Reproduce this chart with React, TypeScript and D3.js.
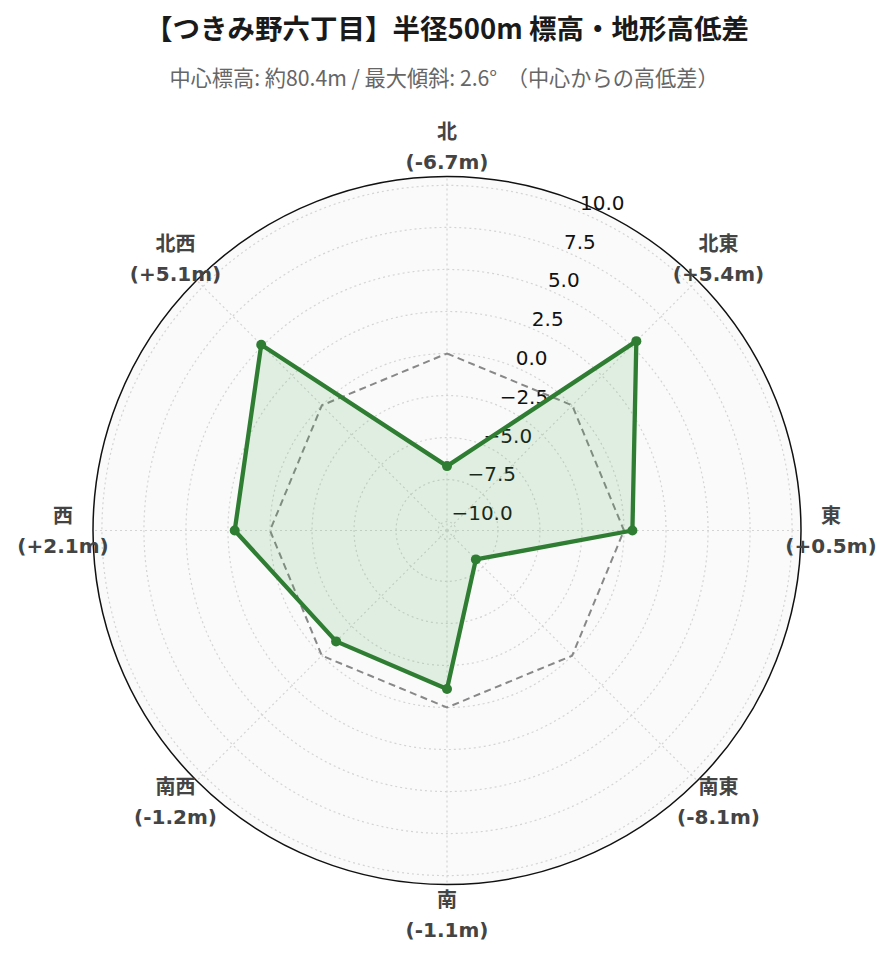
import React from "react";
import * as d3 from "d3";

const directions = ["北", "北東", "東", "南東", "南", "南西", "西", "北西"];
const diffs = [-6.7, 5.4, 0.5, -8.1, -1.1, -1.2, 2.1, 5.1];
const referenceValues = [0, 0, 0, 0, 0, 0, 0, 0];
const radialTicks = [-10, -7.5, -5, -2.5, 0, 2.5, 5, 7.5, 10];
const radialRange = [-10.53, 10.53];
const titleText = "【つきみ野六丁目】半径500m 標高・地形高低差";
const subtitleText = "中心標高: 約80.4m / 最大傾斜: 2.6°  （中心からの高低差）";

const W = 893;
const H = 962;
const cx = 447;
const cy = 530.5;
const R = 354;
const tickAngleDeg = 22.5; // clockwise from north

export default function App() {
  const r = d3.scaleLinear().domain(radialRange).range([0, R]);
  const angle = d3
    .scalePoint<string>()
    .domain(directions)
    .range([0, 2 * Math.PI * (1 - 1 / directions.length)]);

  const pt = (a: number, rad: number): [number, number] => [
    cx + rad * Math.sin(a),
    cy - rad * Math.cos(a),
  ];

  const radial = d3
    .lineRadial<number>()
    .angle((_, i) => angle(directions[i]) as number)
    .radius((d) => r(d))
    .curve(d3.curveLinearClosed);

  const dataPath = radial(diffs) || "";
  const refPath = radial(referenceValues) || "";

  const fmtTick = (v: number) => {
    const s = Math.abs(v).toFixed(1);
    return v < 0 ? "\u2212" + s : s;
  };
  const fmtDiff = (v: number) => (v >= 0 ? "+" : "-") + Math.abs(v).toFixed(1) + "m";

  const ta = (tickAngleDeg * Math.PI) / 180;
  const labelFont = "'DejaVu Sans', 'Noto Sans CJK JP', sans-serif";

  return (
    <svg
      width={W}
      height={H}
      style={{ position: "absolute", left: 0, top: 0, background: "#fff" }}
    >
      <text
        x={447}
        y={27}
        textAnchor="middle"
        dominantBaseline="central"
        fontFamily="'Noto Sans CJK JP', sans-serif"
        fontWeight="bold"
        fontSize={27.5}
        fill="#1a1a1a"
      >
        {titleText}
      </text>
      <text
        x={444}
        y={76}
        textAnchor="middle"
        dominantBaseline="central"
        fontFamily="'Noto Sans CJK JP', sans-serif"
        fontSize={21.2}
        fill="#666"
        style={{ whiteSpace: "pre" }}
      >
        {subtitleText}
      </text>

      <circle cx={cx} cy={cy} r={R} fill="#fafafa" />

      {radialTicks.map((t) => (
        <circle
          key={"g" + t}
          cx={cx}
          cy={cy}
          r={r(t)}
          fill="none"
          stroke="#d4d4d4"
          strokeWidth={1.2}
          strokeDasharray="2,3"
        />
      ))}
      {directions.map((d) => {
        const [x2, y2] = pt(angle(d) as number, R);
        return (
          <line
            key={"a" + d}
            x1={cx}
            y1={cy}
            x2={x2}
            y2={y2}
            stroke="#d4d4d4"
            strokeWidth={1.2}
            strokeDasharray="2,3"
          />
        );
      })}

      {radialTicks.map((t) => {
        const [x, y] = pt(ta, r(t));
        return (
          <text
            key={"t" + t}
            x={x + 1}
            y={y - 9}
            textAnchor="start"
            dominantBaseline="central"
            fontFamily="'DejaVu Sans', sans-serif"
            fontSize={20}
            fill="#111"
          >
            {fmtTick(t)}
          </text>
        );
      })}

      <path
        d={refPath}
        transform={`translate(${cx},${cy})`}
        fill="none"
        stroke="#888"
        strokeWidth={2}
        strokeDasharray="7,4.5"
      />

      <path
        d={dataPath}
        transform={`translate(${cx},${cy})`}
        fill="rgba(76,175,80,0.15)"
        stroke="#2e7d32"
        strokeWidth={4.3}
        strokeLinejoin="round"
      />
      {diffs.map((v, i) => {
        const [x, y] = pt(angle(directions[i]) as number, r(v));
        return <circle key={"m" + i} cx={x} cy={y} r={5} fill="#2e7d32" />;
      })}

      <circle cx={cx} cy={cy} r={R} fill="none" stroke="#111" strokeWidth={1.5} />

      {directions.map((d, i) => {
        const [x, y] = pt(angle(d) as number, 384);
        return (
          <g key={"l" + d}>
            <text
              x={x}
              y={y - 15}
              textAnchor="middle"
              dominantBaseline="central"
              fontFamily={labelFont}
              fontWeight="bold"
              fontSize={20}
              fill="#444"
            >
              {d}
            </text>
            <text
              x={x}
              y={y + 15}
              textAnchor="middle"
              dominantBaseline="central"
              fontFamily={labelFont}
              fontWeight="bold"
              fontSize={20}
              fill="#444"
            >
              ({fmtDiff(diffs[i])})
            </text>
          </g>
        );
      })}
    </svg>
  );
}
